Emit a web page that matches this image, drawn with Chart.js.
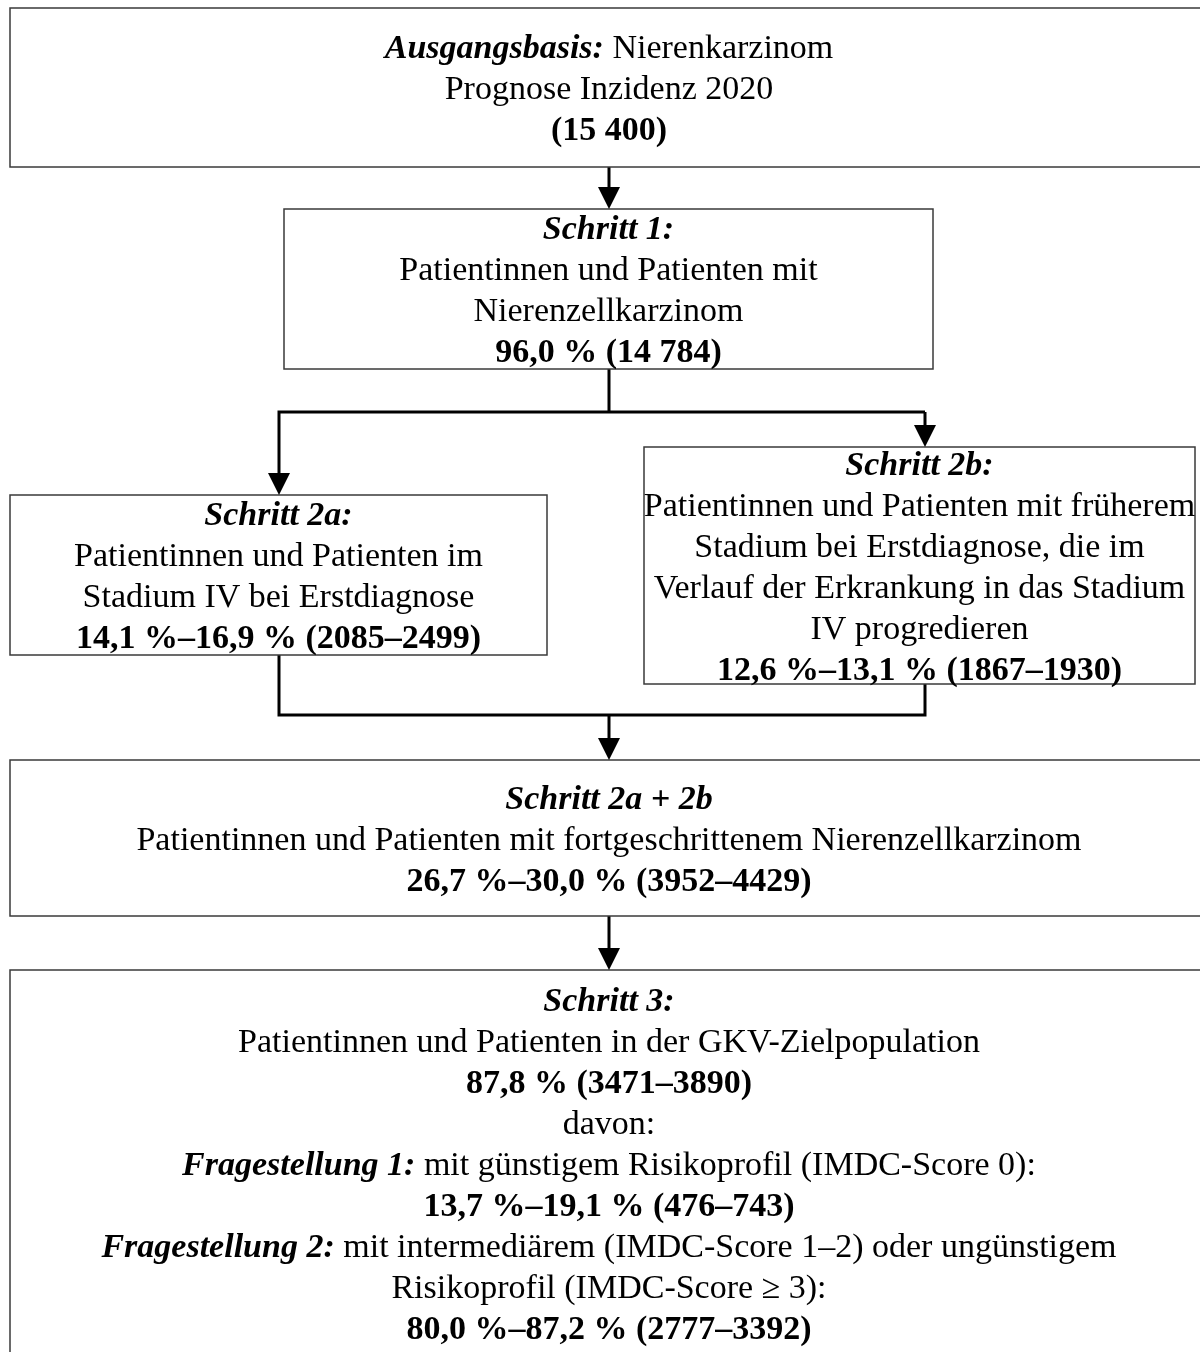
<!DOCTYPE html>
<html lang="de">
<head>
<meta charset="utf-8">
<title>Herleitung der GKV-Zielpopulation</title>
<script src="https://cdn.jsdelivr.net/npm/chart.js@4.4.1/dist/chart.umd.min.js"></script>
<style>
  html, body { margin: 0; padding: 0; background: #fff; }
  #wrap { width: 1200px; height: 1352px; }
</style>
</head>
<body>
<div id="wrap"><canvas id="flowGraph"></canvas></div>
<script>
// Kennzahlen je Schritt
const schritte = ['Ausgangsbasis:', 'Schritt 1:', 'Schritt 2a:', 'Schritt 2b:', 'Schritt 2a + 2b', 'Schritt 3:'];
const anteile = ['', '96,0 %', '14,1 %–16,9 %', '12,6 %–13,1 %', '26,7 %–30,0 %', '87,8 %'];
const patientenzahlen = ['15 400', '14 784', '2085–2499', '1867–1930', '3952–4429', '3471–3890'];
const fragestellungen = ['Fragestellung 1:', 'Fragestellung 2:'];
const frageAnteile = ['13,7 %–19,1 %', '80,0 %–87,2 %'];
const frageZahlen = ['476–743', '2777–3392'];

// Texte ([[..]] = fett kursiv, {{..}} = fett)
const kastenTexte = [
    ['[[' + schritte[0] + ']] Nierenkarzinom', 'Prognose Inzidenz 2020', '{{(' + patientenzahlen[0] + ')}}'],
    ['[[' + schritte[1] + ']]', 'Patientinnen und Patienten mit', 'Nierenzellkarzinom',
        '{{' + anteile[1] + ' (' + patientenzahlen[1] + ')}}'],
    ['[[' + schritte[2] + ']]', 'Patientinnen und Patienten im', 'Stadium IV bei Erstdiagnose',
        '{{' + anteile[2] + ' (' + patientenzahlen[2] + ')}}'],
    ['[[' + schritte[3] + ']]', 'Patientinnen und Patienten mit früherem', 'Stadium bei Erstdiagnose, die im',
        'Verlauf der Erkrankung in das Stadium', 'IV progredieren', '{{' + anteile[3] + ' (' + patientenzahlen[3] + ')}}'],
    ['[[' + schritte[4] + ']]', 'Patientinnen und Patienten mit fortgeschrittenem Nierenzellkarzinom',
        '{{' + anteile[4] + ' (' + patientenzahlen[4] + ')}}'],
    ['[[' + schritte[5] + ']]', 'Patientinnen und Patienten in der GKV-Zielpopulation',
        '{{' + anteile[5] + ' (' + patientenzahlen[5] + ')}}', 'davon:',
        '[[' + fragestellungen[0] + ']] mit günstigem Risikoprofil (IMDC-Score 0):',
        '{{' + frageAnteile[0] + ' (' + frageZahlen[0] + ')}}',
        '[[' + fragestellungen[1] + ']] mit intermediärem (IMDC-Score 1–2) oder ungünstigem',
        'Risikoprofil (IMDC-Score ≥ 3):',
        '{{' + frageAnteile[1] + ' (' + frageZahlen[1] + ')}}']
];

// Lage der Kästen in Diagrammeinheiten
const kastenLage = [
    { x0: 10, x1: 1208, y0: 8, y1: 167 },
    { x0: 284, x1: 933, y0: 209, y1: 369 },
    { x0: 10, x1: 547, y0: 495, y1: 655 },
    { x0: 644, x1: 1195, y0: 447, y1: 684 },
    { x0: 10, x1: 1208, y0: 760, y1: 916 },
    { x0: 10, x1: 1208, y0: 970, y1: 1357 }
];

// Verbindungslinien (letzter Punkt mit Pfeil, wenn pfeil = true)
const verbindungen = [
    { pts: [[609, 167], [609, 209]], pfeil: true },
    { pts: [[609, 369], [609, 412]], pfeil: false },
    { pts: [[925, 412], [279, 412], [279, 495]], pfeil: true },
    { pts: [[925, 412], [925, 447]], pfeil: true },
    { pts: [[279, 655], [279, 715], [925, 715], [925, 684]], pfeil: false },
    { pts: [[609, 715], [609, 760]], pfeil: true },
    { pts: [[609, 916], [609, 970]], pfeil: true }
];

const schrift = 'Liberation Serif, Times New Roman, serif';
const schriftGroesse = 34;
const zeilenAbstand = 41;
const textVersatz = 3;
const pfeilLaenge = 22;
const pfeilBreite = 22;

function zerlege(zeile) {
    const teile = [];
    const re = /\[\[(.+?)\]\]|\{\{(.+?)\}\}|([^\[\{]+)/g;
    let m;
    while ((m = re.exec(zeile)) !== null) {
        if (m[1]) teile.push({ t: m[1], f: 'italic bold ' });
        else if (m[2]) teile.push({ t: m[2], f: 'bold ' });
        else teile.push({ t: m[3], f: '' });
    }
    return teile;
}

const flussPlugin = {
    id: 'fluss',
    afterDatasetsDraw(chart) {
        const { ctx, scales: { x, y } } = chart;
        ctx.save();
        // Kästen
        ctx.strokeStyle = '#3a3a3a';
        ctx.lineWidth = 1.5;
        kastenLage.forEach(k => {
            const px0 = x.getPixelForValue(k.x0), px1 = x.getPixelForValue(k.x1);
            const py0 = y.getPixelForValue(k.y0), py1 = y.getPixelForValue(k.y1);
            ctx.strokeRect(px0, py0, px1 - px0, py1 - py0);
        });
        // Pfeilspitzen
        ctx.fillStyle = '#000';
        verbindungen.filter(v => v.pfeil).forEach(v => {
            const [tx, ty] = v.pts[v.pts.length - 1];
            const px = x.getPixelForValue(tx), py = y.getPixelForValue(ty);
            ctx.beginPath();
            ctx.moveTo(px, py);
            ctx.lineTo(px - pfeilBreite / 2, py - pfeilLaenge);
            ctx.lineTo(px + pfeilBreite / 2, py - pfeilLaenge);
            ctx.closePath();
            ctx.fill();
        });
        // Texte
        ctx.fillStyle = '#000';
        ctx.textBaseline = 'middle';
        ctx.textAlign = 'left';
        kastenTexte.forEach((zeilen, i) => {
            const k = kastenLage[i];
            const cx = x.getPixelForValue((k.x0 + k.x1) / 2);
            const cy = y.getPixelForValue((k.y0 + k.y1) / 2);
            const start = cy - (zeilen.length - 1) * zeilenAbstand / 2 + textVersatz;
            zeilen.forEach((zeile, j) => {
                const teile = zerlege(zeile);
                let breite = 0;
                teile.forEach(t => {
                    ctx.font = t.f + schriftGroesse + 'px ' + schrift;
                    t.w = ctx.measureText(t.t).width;
                    breite += t.w;
                });
                let px = cx - breite / 2;
                teile.forEach(t => {
                    ctx.font = t.f + schriftGroesse + 'px ' + schrift;
                    ctx.fillText(t.t, px, start + j * zeilenAbstand);
                    px += t.w;
                });
            });
        });
        ctx.restore();
    }
};

// Linien als Datensätze (enden an der Pfeilbasis)
const datensaetze = verbindungen.map(v => {
    const punkte = v.pts.map(p => ({ x: p[0], y: p[1] }));
    if (v.pfeil) {
        const letzter = punkte[punkte.length - 1];
        punkte[punkte.length - 1] = { x: letzter.x, y: letzter.y - pfeilLaenge + 2 };
    }
    return {
        data: punkte,
        showLine: true,
        borderColor: '#000',
        borderWidth: 3,
        pointRadius: 0,
        fill: false,
        tension: 0
    };
});

const ctx = document.getElementById('flowGraph').getContext('2d');
new Chart(ctx, {
    type: 'scatter',
    data: { datasets: datensaetze },
    options: {
        responsive: true,
        maintainAspectRatio: false,
        animation: false,
        layout: { padding: 0 },
        plugins: { legend: { display: false }, tooltip: { enabled: false } },
        scales: {
            x: { type: 'linear', min: 0, max: 1200, display: false },
            y: { type: 'linear', min: 0, max: 1352, reverse: true, display: false }
        }
    },
    plugins: [flussPlugin]
});
</script>
</body>
</html>
